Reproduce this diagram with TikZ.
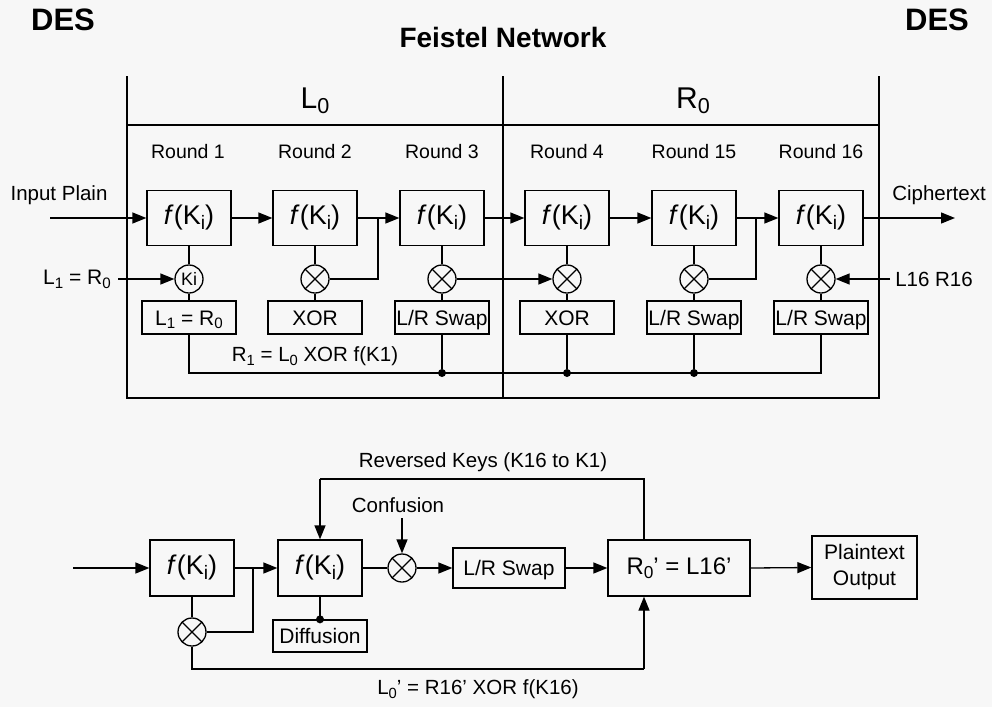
\documentclass[tikz,border=0pt]{standalone}
\usepackage{fontspec}
\setmainfont{Liberation Sans}
\usepackage{graphicx}
\usetikzlibrary{arrows.meta}
\newcommand{\subx}[1]{\raisebox{-0.35ex}{\scalebox{0.72}{#1}}}
\newcommand{\fk}{\textit{f}(K\subx{i})}
\begin{document}
\begin{tikzpicture}[x=1pt,y=-1pt,
  every node/.style={font=\fontsize{20.5}{23}\selectfont, inner sep=0pt},
  ln/.style={line width=1.3pt},
  arr/.style={ln, -{Triangle[length=14pt,width=11pt]}},
  fbox/.style={draw, ln, minimum width=84pt, minimum height=55pt, font=\fontsize{27}{30}\selectfont},
  lbox/.style={draw, ln, minimum width=94pt, minimum height=33pt, font=\fontsize{21}{24}\selectfont,
    text height=15pt, text depth=0pt},
  xcirc/.style={draw, ln, circle, minimum size=28pt,
    path picture={\draw[ln] (path picture bounding box.north west)--(path picture bounding box.south east)
      (path picture bounding box.north east)--(path picture bounding box.south west);}},
  kcirc/.style={draw, ln, circle, minimum size=28pt, font=\fontsize{18}{20}\selectfont},
  dotn/.style={circle, fill, minimum size=8pt},
  rnd/.style={font=\fontsize{19.5}{22}\selectfont},
  ttl/.style={font=\bfseries\fontsize{31}{34}\selectfont}
]
\fill[black!3] (0,0) rectangle (992,707);
\useasboundingbox (0,0) rectangle (992,707);

% titles
\node[ttl] (des1) at (63,20) {DES};
\node[ttl] (des2) at (937,20) {DES};
\node[font=\bfseries\fontsize{28}{32}\selectfont] (fn) at (503,37) {Feistel Network};

% frame
\draw[ln] (127,76) -- (127,398) -- (879,398) -- (879,76);
\draw[ln] (503,76) -- (503,398);
\draw[ln] (127,125) -- (879,125);
\node[font=\fontsize{30}{34}\selectfont] (L0) at (315,101) {L\subx{0}};
\node[font=\fontsize{30}{34}\selectfont] (R0) at (693,101) {R\subx{0}};

% round labels
\node[rnd] (r1) at (188,152) {Round 1};
\node[rnd] (r2) at (315,152) {Round 2};
\node[rnd] (r3) at (442,152) {Round 3};
\node[rnd] (r4) at (567,152) {Round 4};
\node[rnd] (r5) at (694,152) {Round 15};
\node[rnd] (r6) at (821,152) {Round 16};

% f boxes
\node[fbox] (b1) at (189,218) {\fk};
\node[fbox] (b2) at (315,218) {\fk};
\node[fbox] (b3) at (442,218) {\fk};
\node[fbox] (b4) at (567,218) {\fk};
\node[fbox] (b5) at (694,218) {\fk};
\node[fbox] (b6) at (821,218) {\fk};

% circles
\node[kcirc] (c1) at (189,279) {Ki};
\node[xcirc] (c2) at (315,279) {};
\node[xcirc] (c3) at (442,279) {};
\node[xcirc] (c4) at (567,279) {};
\node[xcirc] (c5) at (694,279) {};
\node[xcirc] (c6) at (821,279) {};

% lower boxes
\node[lbox] (l1) at (189,317.5) {L\subx{1} = R\subx{0}};
\node[lbox] (l2) at (315,317.5) {XOR};
\node[lbox] (l3) at (442,317.5) {L/R Swap};
\node[lbox] (l4) at (567,317.5) {XOR};
\node[lbox] (l5) at (694,317.5) {L/R Swap};
\node[lbox] (l6) at (821,317.5) {L/R Swap};

\foreach \i in {1,...,6}{
  \draw[ln] (b\i.south) -- (c\i.north);
  \draw[ln] (c\i.south) -- (l\i.north);
}

% side labels
\node (inp) at (59,195) {Input Plain};
\coordinate (inS) at (50,218);
\node[font=\fontsize{21}{24}\selectfont] (lr) at (77,279) {L\subx{1} = R\subx{0}};
\coordinate (lrS) at (118,279);
\node (cph) at (939,195) {Ciphertext};
\coordinate (cphE) at (955,218);
\node (l16) at (934,279) {L16 R16};
\coordinate (l16S) at (890,279);

\draw[arr] (inS) -- (b1.west);
\draw[arr] (lrS) -- (c1.west);
\draw[arr] (b1.east) -- (b2.west);
\draw[arr] (b2.east) -- (b3.west);
\coordinate (j2) at (378,218);
\draw[ln] (c2.east) -| (j2);
\draw[arr] (b3.east) -- (b4.west);
\draw[arr] (c3.east) -- (c4.west);
\draw[arr] (b4.east) -- (b5.west);
\draw[arr] (b5.east) -- (b6.west);
\coordinate (j5) at (756,218);
\draw[ln] (c5.east) -| (j5);
\draw[arr] (b6.east) -- (cphE);
\draw[arr] (l16S) -- (c6.east);

% bus
\coordinate (bus1) at (189,373);
\coordinate (bus6) at (821,373);
\draw[ln] (l1.south) -- (bus1) -- (bus6) -- (l6.south);
\node[dotn] (d3) at (442,373) {};
\node[dotn] (d4) at (567,373) {};
\node[dotn] (d5) at (694,373) {};
\draw[ln] (l3.south) -- (d3);
\draw[ln] (l4.south) -- (d4);
\draw[ln] (l5.south) -- (d5);
\node (rl) at (315,356) {R\subx{1} = L\subx{0} XOR f(K1)};

% ---- bottom diagram ----
\node[fbox, minimum height=56pt] (A) at (192,568) {\fk};
\node[fbox, minimum height=56pt] (B) at (320,568) {\fk};
\node[xcirc] (X) at (402,568) {};
\node[draw, ln, minimum width=112pt, minimum height=40pt, font=\fontsize{21}{24}\selectfont,
  text height=15pt, text depth=0pt] (S) at (509,568) {L/R Swap};
\node[draw, ln, minimum width=142pt, minimum height=56pt, font=\fontsize{24}{28}\selectfont] (R) at (679,568) {R\subx{0}' = L16'};
\node[draw, ln, minimum width=105pt, minimum height=63pt, align=center, font=\fontsize{21}{26}\selectfont] (P) at (864.5,567.5) {Plaintext\\Output};
\node[xcirc] (Y) at (192,632) {};
\node[draw, ln, minimum width=94pt, minimum height=32pt, font=\fontsize{21}{24}\selectfont] (D) at (320,636) {Diffusion};

\coordinate (aS) at (73,568);
\draw[arr] (aS) -- (A.west);
\draw[arr] (A.east) -- (B.west);
\coordinate (jA) at (253,568);
\draw[ln] (Y.east) -| (jA);
\draw[ln] (A.south) -- (Y.north);
\draw[ln] (B.south) -- (D.north);
\node[dotn] (dd) at (D.north) {};
\draw[ln] (B.east) -- (X.west);
\draw[arr] (X.east) -- (S.west);
\draw[arr] (S.east) -- (R.west);
\draw[arr] (R.east) -- (P.west);

\node (conf) at (398,505) {Confusion};
\coordinate (confS) at (402,518);
\draw[arr] (confS) -- (X.north);

\coordinate (rk1) at (644,479);
\coordinate (rk2) at (320,479);
\draw[ln] (R.north -| rk1) -- (rk1) -- (rk2);
\draw[arr] (rk2) -- (B.north);
\node (rk) at (483,462) {Reversed Keys (K16 to K1)};

\coordinate (lk1) at (192,669);
\coordinate (lk2) at (644,669);
\draw[ln] (Y.south) -- (lk1) -- (lk2);
\draw[arr] (lk2) -- (R.south -| lk2);
\node (lk) at (478,689) {L\subx{0}' = R16' XOR f(K16)};
\end{tikzpicture}
\end{document}
